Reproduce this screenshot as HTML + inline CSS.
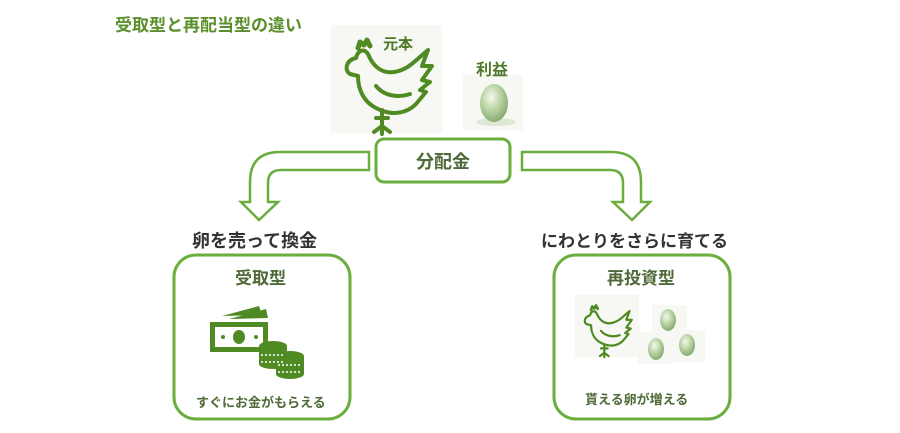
<!DOCTYPE html>
<html><head><meta charset="utf-8"><style>
body{margin:0;width:900px;height:433px;background:#fff;overflow:hidden;position:relative;font-family:"Liberation Sans","Noto Sans CJK JP",sans-serif;font-weight:bold}
.t{position:absolute;white-space:nowrap}
</style></head><body>
<svg width="900" height="433" style="position:absolute;left:0;top:0">
<defs>
<radialGradient id="eg" cx="0.4" cy="0.35" r="0.7"><stop offset="0" stop-color="#f4f8ee"/><stop offset="0.5" stop-color="#b9d3a3"/><stop offset="1" stop-color="#7fa66a"/></radialGradient>
<g id="hen" fill="none" stroke="#4f8a22" stroke-width="4" stroke-linecap="round" stroke-linejoin="round">
<path d="M20 28 C10 30 8 40 14 44 L22 46 C22 60 28 72 40 78 C55 86 70 84 80 74 L90 62 L84 60 L94 52 L86 50 L96 36 L86 36 L92 20 C80 30 72 40 58 42 C44 44 36 34 32 24 C28 18 22 20 20 28 Z"/>
<path d="M40 56 C48 66 62 68 74 64"/>
<path d="M46 80 L46 96 M46 96 L38 102 M46 96 L46 104 M46 96 L54 102 M40 88 L52 88"/>
<path d="M22 18 L24 12 L28 15 L31 10 L34 16" stroke-width="5"/>
</g>
</defs>
<rect x="331" y="25" width="111" height="108" fill="#f7f8f3"/>
<use href="#hen" transform="translate(336,30)"/>
<rect x="463" y="75" width="60" height="55" fill="#f7f8f3"/>
<ellipse cx="496" cy="122" rx="20" ry="4" fill="#dfe8d6"/>
<ellipse cx="494" cy="103" rx="14" ry="19" fill="url(#eg)"/>
<path d="M369 152 L280 152 Q250 152 250 182 L250 202 L241 202 L259 220 L278 202 L268 202 L268 183 Q268 170 281 170 L369 170 Z" fill="#fff" stroke="#6aae3e" stroke-width="2.5"/>
<path d="M522 152 L611 152 Q641 152 641 182 L641 202 L650 202 L632 220 L613 202 L623 202 L623 183 Q623 170 610 170 L522 170 Z" fill="#fff" stroke="#6aae3e" stroke-width="2.5"/>
<rect x="376" y="139" width="134" height="43" rx="8" fill="#fff" stroke="#6aae3e" stroke-width="3"/>
<rect x="174" y="255" width="176" height="164" rx="22" fill="#fff" stroke="#6aae3e" stroke-width="3"/>
<rect x="554" y="255" width="176" height="164" rx="22" fill="#fff" stroke="#6aae3e" stroke-width="3"/>
<g fill="#4f8a22">
<path d="M222 316 L259 306 L262 315 Z"/><path d="M229 319 L266 309 L268 318 Z"/>
<rect x="210" y="322" width="58" height="30"/>
<rect x="215" y="327" width="48" height="20" fill="#fff"/>
<ellipse cx="239" cy="337" rx="6" ry="7"/>
<circle cx="223" cy="337" r="2"/><circle cx="256" cy="337" r="2"/>
<ellipse cx="273" cy="346" rx="14" ry="5"/><rect x="259" y="346" width="28" height="18"/><ellipse cx="273" cy="364" rx="14" ry="5"/>
<ellipse cx="290" cy="356" rx="14" ry="5"/><rect x="276" y="356" width="28" height="18"/><ellipse cx="290" cy="374" rx="14" ry="5"/>
</g>
<g stroke="#fff" stroke-width="1.5" stroke-dasharray="2 2"><path d="M261 355 H285 M261 362 H285 M278 365 H302 M278 372 H302"/></g>
<rect x="575" y="295" width="64" height="62" fill="#f7f8f3"/>
<use href="#hen" transform="translate(579,300) scale(0.55)"/>
<rect x="652" y="305" width="35" height="32" fill="#f7f8f3"/>
<rect x="638" y="332" width="35" height="32" fill="#f7f8f3"/>
<rect x="670" y="330" width="35" height="32" fill="#f7f8f3"/>
<ellipse cx="668" cy="320" rx="8" ry="11" fill="url(#eg)"/>
<ellipse cx="656" cy="349" rx="8" ry="11" fill="url(#eg)"/>
<ellipse cx="687" cy="345" rx="8" ry="11" fill="url(#eg)"/>
</svg>
<div class="t" style="left:115px;top:11px;font-size:17px;color:#5a8f2c">受取型と再配当型の違い</div>
<div class="t" style="left:383px;top:33px;font-size:15px;color:#4f7a2a">元本</div>
<div class="t" style="left:476px;top:56px;font-size:16px;color:#4f7a2a">利益</div>
<div class="t" style="left:416px;top:148px;font-size:18px;color:#4f6a38">分配金</div>
<div class="t" style="left:192px;top:227px;font-size:18px;color:#333">卵を売って換金</div>
<div class="t" style="left:541px;top:227px;font-size:17px;color:#333">にわとりをさらに育てる</div>
<div class="t" style="left:235px;top:264px;font-size:17px;color:#4f6a38">受取型</div>
<div class="t" style="left:607px;top:264px;font-size:17px;color:#4f6a38">再投資型</div>
<div class="t" style="left:196px;top:392px;font-size:13px;color:#4f6a38">すぐにお金がもらえる</div>
<div class="t" style="left:585px;top:389px;font-size:13px;color:#4f6a38">貰える卵が増える</div>
</body></html>
